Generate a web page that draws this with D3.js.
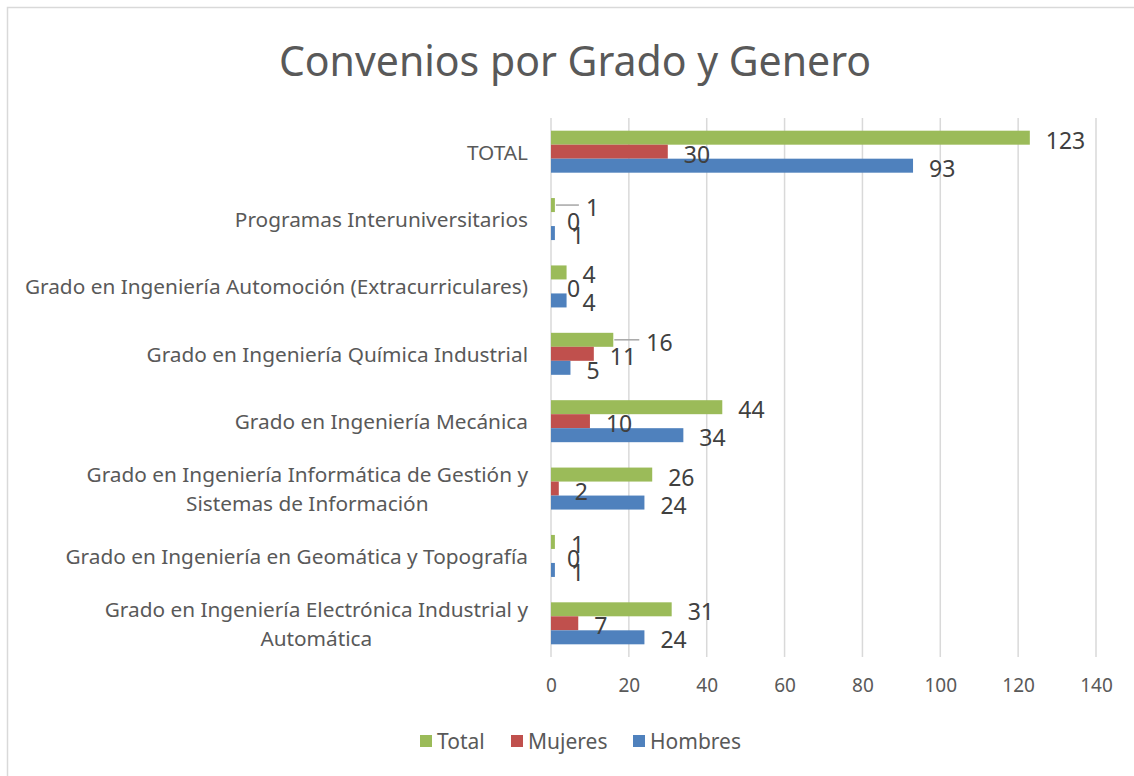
<!DOCTYPE html>
<html>
<head>
<meta charset="utf-8">
<script src="https://cdn.jsdelivr.net/npm/d3@7"></script>
<style>
  html, body { margin: 0; padding: 0; background: #fff; }
  text { font-family: "Noto Sans", "Open Sans", sans-serif; }
</style>
</head>
<body>
<div id="app"></div>
<script>
// categories, top to bottom as drawn
const categories = [
  "TOTAL",
  "Programas Interuniversitarios",
  "Grado en Ingeniería Automoción (Extracurriculares)",
  "Grado en Ingeniería Química Industrial",
  "Grado en Ingeniería Mecánica",
  "Grado en Ingeniería Informática de Gestión y|Sistemas de Información",
  "Grado en Ingeniería en Geomática y Topografía",
  "Grado en Ingeniería Electrónica Industrial y|Automática"
];

const series = ["Total", "Mujeres", "Hombres"];

const totalValues   = [123, 1, 4, 16, 44, 26, 1, 31];
const mujeresValues = [30, 0, 0, 11, 10, 2, 0, 7];
const hombresValues = [93, 1, 4, 5, 34, 24, 1, 24];

const xTicks = [0, 20, 40, 60, 80, 100, 120, 140];

const colors = { Total: "#9BBB59", Mujeres: "#C0504D", Hombres: "#4F81BD" };

// labels that Excel pushed aside, drawn with a leader line
const labelNudge = { "1|Total": 15, "3|Total": 17 };

const full = { width: 1134, height: 776 };
const plot = { left: 551, right: 1096, top: 118, bottom: 657 };

const valuesBySeries = { Total: totalValues, Mujeres: mujeresValues, Hombres: hombresValues };
const rows = categories.map((c, i) => ({
  cat: c, i,
  vals: series.map(s => ({ s, v: valuesBySeries[s][i], i }))
}));

const svg = d3.select("#app").append("svg")
  .attr("width", full.width)
  .attr("height", full.height);

// chart frame
svg.append("rect")
  .attr("x", 7.5).attr("y", 7.5)
  .attr("width", full.width).attr("height", full.height)
  .attr("fill", "none").attr("stroke", "#d9d9d9").attr("stroke-width", 1.5);

svg.append("text")
  .attr("x", 575).attr("y", 76)
  .attr("text-anchor", "middle")
  .attr("fill", "#595959")
  .style("font-size", "41px")
  .text("Convenios por Grado y Genero");

const x = d3.scaleLinear().domain([0, 140]).range([plot.left, plot.right]);
const y = d3.scaleBand().domain(categories).range([plot.top, plot.bottom]);
const groupH = 42;
const y1 = d3.scaleBand().domain(series)
  .range([(y.bandwidth() - groupH) / 2, (y.bandwidth() + groupH) / 2]);

// gridlines
svg.append("g")
  .selectAll("line")
  .data(xTicks)
  .join("line")
  .attr("x1", d => x(d)).attr("x2", d => x(d))
  .attr("y1", plot.top).attr("y2", plot.bottom)
  .attr("stroke", "#d9d9d9").attr("stroke-width", 1.5);

// x axis tick labels
const xAxis = svg.append("g")
  .attr("transform", `translate(0,${plot.bottom})`)
  .call(d3.axisBottom(x).tickValues(xTicks).tickSize(0).tickPadding(22));
xAxis.select(".domain").remove();
xAxis.selectAll("text")
  .attr("fill", "#595959")
  .style("font-size", "19px")
  .style("font-family", "'Noto Sans', sans-serif");

// category labels (multi-line blocks centred on their widest line)
const catG = svg.append("g");
rows.forEach(r => {
  const lines = r.cat.split("|");
  const g = catG.append("g");
  const cy = y(r.cat) + y.bandwidth() / 2;
  const lh = 29;
  const t = g.selectAll("text").data(lines).join("text")
    .attr("fill", "#595959")
    .style("font-size", "20.8px")
    .attr("dominant-baseline", "central")
    .attr("y", (d, k) => cy + (k - (lines.length - 1) / 2) * lh)
    .text(d => d);
  let w = 0;
  t.each(function () { w = Math.max(w, this.getComputedTextLength()); });
  t.attr("text-anchor", "middle").attr("x", 528 - w / 2);
});

// bars
const groups = svg.append("g").selectAll("g")
  .data(rows)
  .join("g")
  .attr("transform", d => `translate(0,${y(d.cat)})`);

groups.selectAll("rect")
  .data(d => d.vals)
  .join("rect")
  .attr("x", x(0))
  .attr("y", d => y1(d.s))
  .attr("width", d => x(d.v) - x(0))
  .attr("height", y1.bandwidth())
  .attr("fill", d => colors[d.s]);

// leader lines
groups.selectAll("line.leader")
  .data(d => d.vals.filter(v => labelNudge[`${v.i}|${v.s}`]))
  .join("line")
  .attr("class", "leader")
  .attr("x1", d => x(d.v) + 1)
  .attr("x2", d => x(d.v) + 1 + labelNudge[`${d.i}|${d.s}`] + 8)
  .attr("y1", d => y1(d.s) + y1.bandwidth() / 2)
  .attr("y2", d => y1(d.s) + y1.bandwidth() / 2)
  .attr("stroke", "#a6a6a6").attr("stroke-width", 1.5);

// data labels
groups.selectAll("text.lbl")
  .data(d => d.vals)
  .join("text")
  .attr("class", "lbl")
  .attr("x", d => x(d.v) + 16 + (labelNudge[`${d.i}|${d.s}`] || 0))
  .attr("y", d => y1(d.s) + y1.bandwidth() / 2 + 2)
  .attr("dominant-baseline", "central")
  .attr("fill", "#404040")
  .style("font-size", "23px")
  .text(d => d.v);

// legend
const legendX = [420, 511, 633];
const legend = svg.append("g").selectAll("g")
  .data(series)
  .join("g")
  .attr("transform", (d, k) => `translate(${legendX[k]},741)`);
legend.append("rect")
  .attr("x", 0).attr("y", -6).attr("width", 12).attr("height", 12)
  .attr("fill", d => colors[d]);
legend.append("text")
  .attr("x", 17).attr("y", 0)
  .attr("dominant-baseline", "central")
  .attr("fill", "#595959")
  .style("font-size", "21px")
  .text(d => d);
</script>
</body>
</html>
